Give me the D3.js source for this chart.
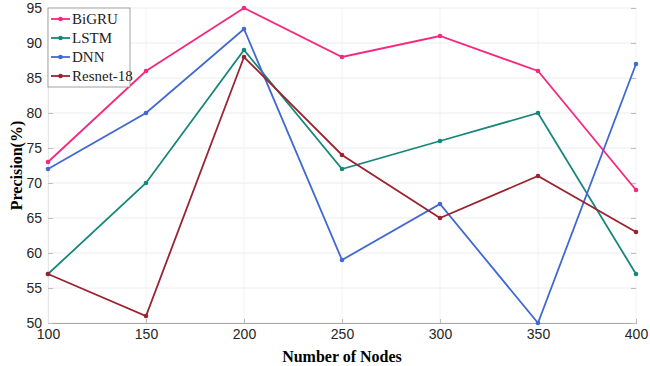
<!DOCTYPE html>
<html>
<head>
<meta charset="utf-8">
<script src="https://cdn.jsdelivr.net/npm/d3@7"></script>
<style>
  body { margin: 0; background: #fff; }
  svg { display: block; }
</style>
</head>
<body>
<div id="chart"></div>
<script>
// Data
const nodes = [100, 150, 200, 250, 300, 350, 400];
const bigru = [73, 86, 95, 88, 91, 86, 69];
const lstm = [57, 70, 89, 72, 76, 80, 57];
const dnn = [72, 80, 92, 59, 67, 50, 87];
const resnet = [57, 51, 88, 74, 65, 71, 63];
const seriesNames = ["BiGRU", "LSTM", "DNN", "Resnet-18"];
const seriesColors = ["#f5287f", "#16877a", "#4169d1", "#9a2330"];
const yTicks = [50, 55, 60, 65, 70, 75, 80, 85, 90, 95];

const series = [bigru, lstm, dnn, resnet].map((v, i) => ({
  name: seriesNames[i], color: seriesColors[i],
  pts: v.map((y, j) => ({x: nodes[j], y: y}))
}));

const W = 650, H = 366;
const margin = {top: 8, right: 14, bottom: 43, left: 48};
const width = W - margin.left - margin.right;
const height = H - margin.top - margin.bottom;

const x = d3.scaleLinear().domain([100, 400]).range([0, width]);
const y = d3.scaleLinear().domain([50, 95]).range([height, 0]);

const svg = d3.select("#chart").append("svg")
    .attr("width", W).attr("height", H);
const g = svg.append("g")
    .attr("transform", `translate(${margin.left},${margin.top})`);

// grid
g.append("g").selectAll("line").data(yTicks).enter().append("line")
    .attr("x1", 0).attr("x2", width)
    .attr("y1", d => y(d)).attr("y2", d => y(d))
    .style("stroke", "#ececec").style("stroke-width", 1);
g.append("g").selectAll("line").data(nodes).enter().append("line")
    .attr("x1", d => x(d)).attr("x2", d => x(d))
    .attr("y1", 0).attr("y2", height)
    .style("stroke", "#f2f2f2").style("stroke-width", 1);

// axes
const xAxis = d3.axisBottom(x).tickValues(nodes).tickSize(-4).tickPadding(6);
const yAxis = d3.axisLeft(y).tickValues(yTicks).tickSize(-5).tickPadding(6);
const yAxisR = d3.axisRight(y).tickValues(yTicks).tickSize(-5).tickFormat("");

const gx = g.append("g").attr("transform", `translate(0,${height})`).call(xAxis);
const gy = g.append("g").call(yAxis);
const gyr = g.append("g").attr("transform", `translate(${width},0)`).call(yAxisR);
[gx, gy, gyr].forEach(a => {
  a.selectAll("text").style("font-family", "Liberation Sans, Arial, sans-serif")
      .style("font-size", "14px").style("fill", "#262626");
  a.selectAll("line").style("stroke", "#bdbdbd");
});
gx.select(".domain").style("stroke", "#a8a8a8");
gy.select(".domain").style("stroke", "#e6e6e6");
gyr.select(".domain").style("stroke", "none");

// lines
const line = d3.line().x(d => x(d.x)).y(d => y(d.y));
series.forEach(s => {
  g.append("path").datum(s.pts)
      .attr("d", line)
      .style("fill", "none").style("stroke", s.color).style("stroke-width", 1.8);
  g.selectAll(null).data(s.pts).enter().append("circle")
      .attr("cx", d => x(d.x)).attr("cy", d => y(d.y)).attr("r", 2.3)
      .style("fill", s.color);
});

// axis labels
svg.append("text")
    .attr("x", margin.left + width / 2).attr("y", H - 4)
    .attr("text-anchor", "middle")
    .style("font-family", "Liberation Serif, Times New Roman, serif")
    .style("font-weight", "bold").style("font-size", "16px")
    .text("Number of Nodes");
svg.append("text")
    .attr("transform", `translate(22,${margin.top + height / 2}) rotate(-90)`)
    .attr("text-anchor", "middle")
    .style("font-family", "Liberation Serif, Times New Roman, serif")
    .style("font-weight", "bold").style("font-size", "16px")
    .text("Precision(%)");

// legend
const lg = g.append("g").attr("transform", "translate(0,0)");
lg.append("rect").attr("x", 0).attr("y", 0).attr("width", 82).attr("height", 79)
    .style("fill", "#fff").style("stroke", "#8a8a8a").style("stroke-width", 0.8);
series.forEach((s, i) => {
  const yy = 11 + i * 19;
  lg.append("line").attr("x1", 3).attr("x2", 22).attr("y1", yy).attr("y2", yy)
      .style("stroke", s.color).style("stroke-width", 1.8);
  lg.append("circle").attr("cx", 12.5).attr("cy", yy).attr("r", 2.3).style("fill", s.color);
  lg.append("text").attr("x", 24).attr("y", yy + 5)
      .style("font-family", "Liberation Serif, Times New Roman, serif")
      .style("font-size", "15px").style("fill", "#222")
      .text(s.name);
});
</script>
</body>
</html>
